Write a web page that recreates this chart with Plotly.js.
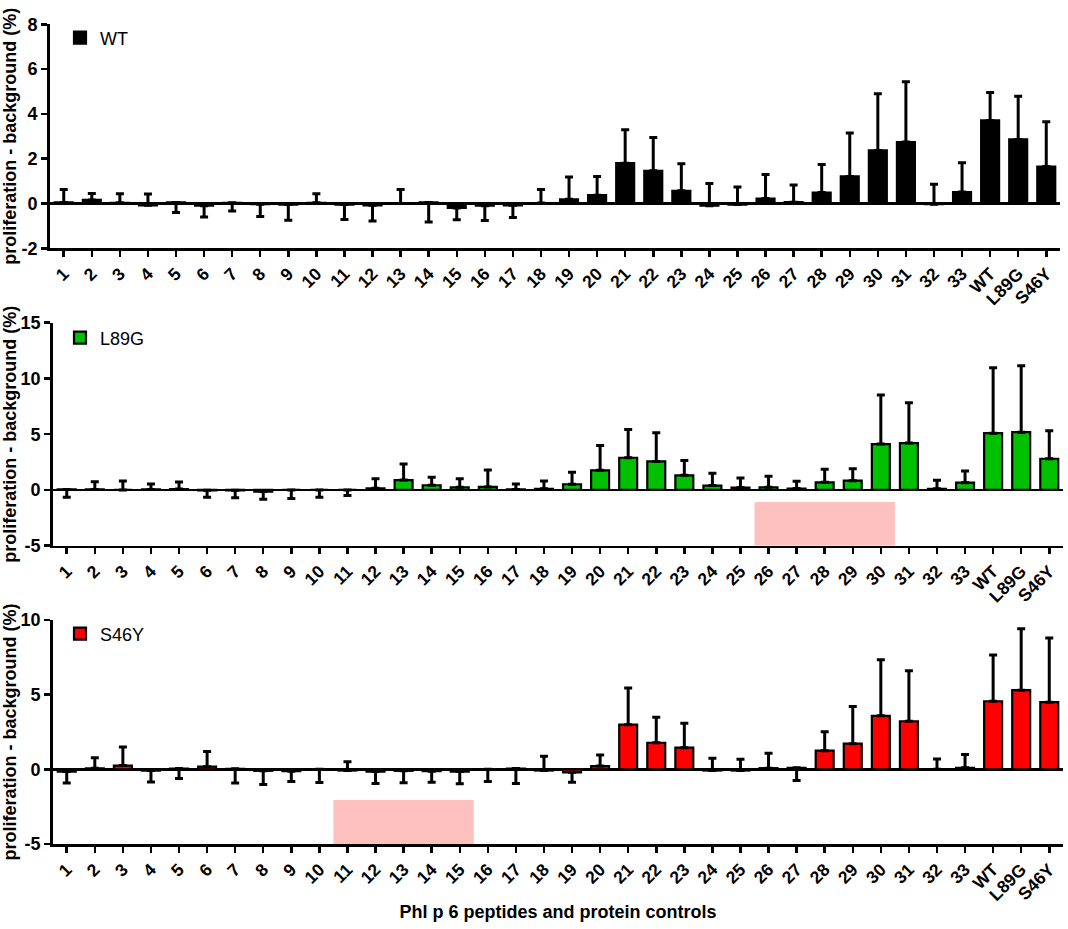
<!DOCTYPE html>
<html>
<head>
<meta charset="utf-8">
<script src="https://cdn.plot.ly/plotly-3.0.1.min.js"></script>
<style>html,body{margin:0;padding:0;background:#fff}#chart{width:1068px;height:929px}</style>
</head>
<body>
<div id="chart"></div>
<script>
// ---- data ----
const categories = ['1','2','3','4','5','6','7','8','9','10','11','12','13','14','15','16','17','18','19','20','21','22','23','24','25','26','27','28','29','30','31','32','33','WT','L89G','S46Y'];

const wtMean  = [0.05,0.16,0.03,-0.08,0.05,-0.1,0.03,-0.03,-0.05,0.03,-0.05,-0.08,0.0,0.05,-0.2,-0.1,-0.08,0.02,0.19,0.37,1.8,1.46,0.57,-0.1,-0.05,0.22,0.06,0.49,1.21,2.37,2.74,-0.03,0.51,3.71,2.86,1.65];
const wtPlus  = [0.57,0.29,0.4,0.5,0,0,0,0,0,0.4,0,0,0.62,0,0,0,0,0.6,0.99,0.84,1.49,1.49,1.2,0.99,0.79,1.07,0.77,1.25,1.94,2.53,2.69,0.89,1.31,1.25,1.93,2.0];
const wtMinus = [0,0,0,0,0.45,0.5,0.36,0.55,0.7,0,0.66,0.7,0,0.88,0.53,0.66,0.55,0,0,0,0,0,0,0,0,0,0,0,0,0,0,0,0,0,0,0];

const l89gMean  = [0.05,0.05,0.0,0.05,0.08,-0.03,-0.03,-0.15,0.0,0.0,0.0,0.15,0.89,0.42,0.24,0.27,0.05,0.1,0.51,1.76,2.89,2.56,1.31,0.39,0.21,0.24,0.12,0.68,0.83,4.11,4.2,0.1,0.65,5.09,5.18,2.8];
const l89gPlus  = [0,0.69,0.8,0.49,0.63,0,0,0,0,0,0,0.86,1.43,0.71,0.77,1.52,0.49,0.7,1.07,2.23,2.53,2.56,1.34,1.1,0.86,0.98,0.65,1.17,1.07,4.4,3.63,0.76,1.05,5.86,5.95,2.5];
const l89gMinus = [0.7,0,0,0,0,0.62,0.68,0.68,0.77,0.65,0.5,0,0,0,0,0,0,0,0,0,0,0,0,0,0,0,0,0,0,0,0,0,0,0,0,0];

const s46yMean  = [-0.15,0.07,0.25,-0.08,0.05,0.18,0.04,-0.1,-0.12,0.0,-0.08,-0.15,-0.1,-0.12,-0.15,0.0,0.05,-0.08,-0.2,0.22,2.99,1.78,1.45,-0.08,-0.08,0.08,0.1,1.25,1.72,3.58,3.22,0.0,0.1,4.56,5.3,4.5];
const s46yPlus  = [0,0.71,1.24,0,0,1.02,0,0,0,0,0.59,0,0,0,0,0,0,0.95,0,0.74,2.45,1.71,1.64,0.83,0.75,0.99,0,1.26,2.49,3.76,3.38,0.69,0.9,3.09,4.12,4.3];
const s46yMinus = [0.77,0,0,0.76,0.66,0,0.96,0.91,0.69,0.88,0,0.8,0.8,0.74,0.82,0.81,1.0,0,0.67,0,0,0,0,0,0,0,0.84,0,0,0,0,0,0,0,0,0];

const wtTicks   = [-2,0,2,4,6,8];
const l89gTicks = [-5,0,5,10,15];
const s46yTicks = [-5,0,5,10];

// highlighted peptide ranges (first, last category) and top of the shaded band
const l89gHighlight = ['26','30'];
const l89gHighlightTop = -1.07;
const s46yHighlight = ['11','15'];
const s46yHighlightTop = -2.05;

// ---- drawing ----
const FONT = 'Liberation Sans, Arial, sans-serif';
function errY(plus, minus){
  return {type:'data', symmetric:false, array:plus, arrayminus:minus, color:'#000', thickness:3, width:4};
}
function barTrace(name, mean, plus, minus, color, n){
  return {
    type:'bar', name:name, x:categories, y:mean,
    xaxis:'x'+(n===1?'':n), yaxis:'y'+(n===1?'':n),
    legend: n===1 ? 'legend' : 'legend'+n,
    width:0.64,
    marker:{color:color, line:{color:'#000', width:2.2}},
    error_y: errY(plus, minus),
    hoverinfo:'x+y'
  };
}
const traces = [
  barTrace('WT', wtMean, wtPlus, wtMinus, '#000000', 1),
  barTrace('L89G', l89gMean, l89gPlus, l89gMinus, '#00C000', 2),
  barTrace('S46Y', s46yMean, s46yPlus, s46yMinus, '#FF0000', 3)
];

const W = 1068, H = 929;
function xdom(l, r){ return [l/W, r/W]; }
function ydom(top, bottom){ return [(H-bottom)/H, (H-top)/H]; }

function xaxis(dom, anchor, showTitle){
  const ax = {
    type:'category', domain:dom, anchor:anchor, range:[-0.5, categories.length-0.5],
    showline:true, linecolor:'#000', linewidth:2.5,
    ticks:'outside', ticklen:6, tickwidth:2.5, tickcolor:'#000',
    tickangle:-45, tickfont:{family:FONT, size:17.5, color:'#000', weight:'bold'},
    showgrid:false, zeroline:false, fixedrange:true
  };
  if(showTitle){
    ax.title = {text:'Phl p 6 peptides and protein controls', font:{family:FONT, size:18, color:'#000', weight:'bold'}, standoff:2};
  }
  return ax;
}
function yaxis(dom, anchor, ticks){
  return {
    domain:dom, anchor:anchor, range:[ticks[0], ticks[ticks.length-1]],
    tickvals:ticks, ticktext:ticks.map(String),
    showline:true, linecolor:'#000', linewidth:2.5,
    ticks:'outside', ticklen:6, tickwidth:2.5, tickcolor:'#000',
    tickfont:{family:FONT, size:18, color:'#000', weight:'bold'},
    showgrid:false, zeroline:true, zerolinecolor:'#000', zerolinewidth:2.5,
    title:{text:'proliferation - background (%)', font:{family:FONT, size:18, color:'#000', weight:'bold'}, standoff:2},
    fixedrange:true
  };
}
function band(range, top, bottom, n){
  return {
    type:'rect', xref:'x'+n, yref:'y'+n, layer:'below',
    x0: categories.indexOf(range[0])-0.5, x1: categories.indexOf(range[1])+0.5,
    y0: bottom, y1: top, fillcolor:'#FFC0C0', line:{width:0}
  };
}
function legendAt(yPix){
  return {x:60/W, xanchor:'left', y:(H-yPix)/H, yanchor:'middle', bgcolor:'rgba(0,0,0,0)',
          font:{family:FONT, size:18, color:'#000'}, borderwidth:0};
}

const layout = {
  width:W, height:H, margin:{l:0, r:0, t:0, b:0},
  paper_bgcolor:'#fff', plot_bgcolor:'#fff',
  showlegend:true,
  font:{family:FONT, color:'#000'},
  xaxis:  xaxis(xdom(49.7, 1060.3), 'y', false),
  yaxis:  yaxis(ydom(24.3, 248.3), 'x', wtTicks),
  xaxis2: xaxis(xdom(52.7, 1063.3), 'y2', false),
  yaxis2: yaxis(ydom(322.7, 545.7), 'x2', l89gTicks),
  xaxis3: xaxis(xdom(52.7, 1063.3), 'y3', true),
  yaxis3: yaxis(ydom(620, 844), 'x3', s46yTicks),
  legend:  legendAt(38),
  legend2: legendAt(338),
  legend3: legendAt(634),
  shapes: [
    band(l89gHighlight, l89gHighlightTop, l89gTicks[0], 2),
    band(s46yHighlight, s46yHighlightTop, s46yTicks[0], 3)
  ]
};

Plotly.newPlot('chart', traces, layout, {staticPlot:true, displayModeBar:false});
</script>
</body>
</html>
